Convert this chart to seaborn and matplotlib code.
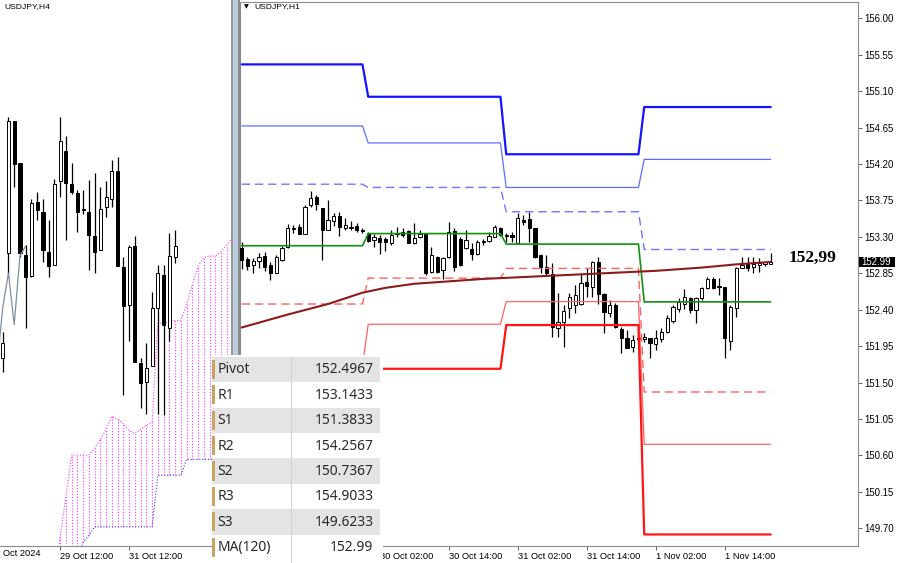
import matplotlib
matplotlib.use("Agg")
import matplotlib.pyplot as plt
import matplotlib.transforms as mtransforms
from matplotlib.patches import Rectangle
import numpy as np
import pandas as pd
import seaborn as sns

# ---------------- H1 candles: 29 Oct 02:00 ... 1 Nov 22:00 ----------------
h1_open = [153.16, 153.03, 152.95, 153.00, 153.06, 152.95, 152.85, 153.01, 153.18, 153.40,
           153.42, 153.34, 153.69, 153.79, 153.66, 153.39, 153.50, 153.56, 153.41, 153.41,
           153.43, 153.38, 153.35, 153.26, 153.29, 153.27, 153.22, 153.35, 153.36, 153.37,
           153.22, 153.30, 153.35, 152.87, 153.05, 152.89, 153.05, 153.37, 153.27, 153.16,
           153.15, 153.09, 153.24, 153.25, 153.30, 153.41, 153.32, 153.32, 153.22, 153.51,
           153.52, 153.41, 153.08, 152.93, 152.84, 152.17, 152.25, 152.42, 152.46, 152.47,
           152.74, 152.68, 152.99, 152.59, 152.36, 152.46, 152.16, 152.05, 151.94, 152.05,
           152.04, 152.05, 151.98, 152.04, 152.13, 152.26, 152.41, 152.47, 152.54, 152.40,
           152.54, 152.67, 152.78, 152.69, 152.68, 152.01, 152.42, 152.92, 152.97, 152.93,
           152.95, 152.97, 152.97]
h1_high = [153.24, 153.05, 153.04, 153.10, 153.11, 152.99, 153.08, 153.19, 153.46, 153.45,
           153.46, 153.69, 153.87, 153.82, 153.66, 153.76, 153.60, 153.61, 153.53, 153.50,
           153.47, 153.41, 153.36, 153.34, 153.32, 153.30, 153.39, 153.42, 153.41, 153.39,
           153.47, 153.39, 153.35, 153.18, 153.06, 153.05, 153.48, 153.41, 153.30, 153.39,
           153.22, 153.26, 153.27, 153.36, 153.45, 153.42, 153.35, 153.36, 153.60, 153.57,
           153.61, 153.41, 153.09, 153.08, 152.98, 152.61, 152.46, 152.61, 152.71, 152.85,
           152.92, 153.00, 153.05, 152.61, 152.52, 152.48, 152.19, 152.15, 152.09, 152.09,
           152.11, 152.05, 152.15, 152.17, 152.34, 152.46, 152.54, 152.66, 152.56, 152.56,
           152.68, 152.80, 152.80, 152.79, 152.68, 152.46, 152.93, 153.05, 153.05, 153.05,
           153.04, 152.99, 153.10]
h1_low = [152.90, 152.89, 152.85, 152.92, 152.88, 152.77, 152.85, 153.00, 153.16, 153.35,
          153.34, 153.34, 153.67, 153.63, 153.01, 153.38, 153.43, 153.31, 153.38, 153.38,
          153.36, 153.35, 153.24, 153.18, 153.09, 153.13, 153.20, 153.30, 153.30, 153.22,
          153.21, 153.29, 152.83, 152.85, 152.85, 152.78, 153.04, 152.88, 152.94, 153.15,
          153.01, 153.08, 153.20, 153.24, 153.30, 153.31, 153.24, 153.24, 153.21, 153.45,
          153.24, 153.04, 152.85, 152.83, 152.06, 152.06, 151.94, 152.30, 152.36, 152.46,
          152.56, 152.56, 152.47, 152.11, 152.31, 152.17, 151.87, 151.93, 151.88, 152.03,
          152.00, 151.80, 151.90, 152.00, 152.11, 152.24, 152.37, 152.41, 152.36, 152.24,
          152.52, 152.66, 152.66, 152.58, 151.80, 151.90, 152.31, 152.92, 152.88, 152.85,
          152.87, 152.94, 152.97]
h1_close = [153.01, 152.94, 153.00, 153.05, 152.93, 152.85, 153.05, 153.16, 153.41, 153.41,
            153.34, 153.67, 153.78, 153.71, 153.39, 153.51, 153.56, 153.42, 153.45, 153.41,
            153.38, 153.37, 153.25, 153.30, 153.24, 153.24, 153.32, 153.34, 153.32, 153.22,
            153.29, 153.34, 152.85, 153.08, 152.87, 153.04, 153.36, 152.93, 152.95, 153.26,
            153.09, 153.24, 153.25, 153.31, 153.42, 153.32, 153.31, 153.30, 153.53, 153.48,
            153.41, 153.05, 152.93, 152.85, 152.19, 152.25, 152.38, 152.56, 152.58, 152.73,
            152.69, 152.99, 152.59, 152.37, 152.46, 152.19, 152.05, 151.93, 152.03, 152.04,
            152.06, 151.99, 152.05, 152.13, 152.30, 152.43, 152.50, 152.56, 152.40, 152.54,
            152.67, 152.78, 152.67, 152.68, 152.05, 152.43, 152.92, 152.95, 152.92, 152.97,
            152.98, 152.97, 152.99]

# ---------------- daily pivot levels (days 29 Oct .. 1 Nov) ----------------
day_first_bar = [0, 22, 46, 70]
day_last_bar = [21, 45, 69, 92]
R3 = [155.43, 155.03, 154.32, 154.9033]
R2 = [154.67, 154.46, 153.91, 154.2567]
R1 = [153.95, 153.91, 153.61, 153.1433]
PP = [153.19, 153.34, 153.21, 152.4967]
S1 = [152.47, 152.79, 152.91, 151.3833]
S2 = [151.71, 152.22, 152.50, 150.7367]
S3 = [150.99, 151.67, 152.21, 149.6233]

# ---------------- MA(120) on H1 ----------------
ma_bar = [0, 8, 15, 21, 25, 30, 36, 42, 48, 54, 60, 66, 72, 80, 86, 92]
ma_value = [152.18, 152.34, 152.47, 152.61, 152.67, 152.72, 152.75, 152.78, 152.80,
            152.82, 152.84, 152.86, 152.88, 152.92, 152.96, 152.99]

# ---------------- H4 candles ----------------
h4_open = [152.20, 152.93, 153.85, 153.56, 152.92, 152.77, 153.29, 153.22, 152.94, 152.85,
           153.43, 153.64, 153.41, 153.35, 153.24, 153.22, 153.05, 152.95, 153.25, 153.31,
           153.50, 152.83, 152.57, 152.98, 152.16, 152.03, 152.14, 152.55, 152.78, 152.41, 152.90]
h4_high = [152.38, 153.88, 153.85, 153.56, 152.99, 153.31, 153.36, 153.31, 153.16, 153.45,
           153.88, 153.75, 153.56, 153.37, 153.37, 153.44, 153.49, 153.39, 153.43, 153.58,
           153.60, 152.90, 152.99, 153.05, 152.20, 152.30, 152.66, 152.85, 152.85, 153.07, 153.09]
h4_low = [152.10, 152.76, 153.39, 152.90, 152.41, 152.76, 153.16, 152.87, 152.76, 152.85,
          153.32, 153.02, 153.34, 153.08, 153.20, 152.81, 152.79, 152.95, 153.18, 153.25,
          152.84, 151.94, 152.32, 152.17, 151.85, 151.81, 152.14, 151.81, 151.80, 152.32, 152.86]
h4_close = [152.30, 153.85, 153.55, 152.93, 152.76, 153.28, 153.23, 152.95, 152.84, 153.41,
            153.71, 153.42, 153.36, 153.22, 153.23, 153.06, 152.94, 153.24, 153.32, 153.50,
            152.84, 152.56, 152.97, 152.17, 152.02, 152.13, 152.55, 152.79, 152.43, 152.91, 152.98]

# Ichimoku cloud (H4)
cloud_bar = list(range(9, 41))
span_a = [150.67, 150.95, 151.23, 151.52, 151.52, 151.52, 151.52, 151.57, 151.63, 151.70,
          151.79, 151.77, 151.74, 151.69, 151.67, 151.70, 151.73, 151.75, 152.44, 152.44,
          152.45, 152.46, 152.46, 152.57, 152.71, 152.84, 152.90, 152.91, 152.91, 152.94,
          152.99, 153.04]
span_b = [150.50, 150.55, 150.65, 150.74, 150.82, 150.91, 150.96, 151.02, 151.02, 151.02,
          151.02, 151.02, 151.02, 151.02, 151.02, 151.02, 151.02, 151.02, 151.38, 151.38,
          151.38, 151.38, 151.38, 151.49, 151.49, 151.49, 151.49, 151.49, 151.49, 151.49,
          151.49, 151.49]
chikou_shift = 26

# ---------------- axis text ----------------
h1_tick_bar = [24, 36, 48, 60, 72, 84]
h1_tick_text = ["30 Oct 02:00", "30 Oct 14:00", "31 Oct 02:00", "31 Oct 14:00",
                "1 Nov 02:00", "1 Nov 14:00"]
h4_tick_bar = [10, 22]
h4_tick_text = ["29 Oct 12:00", "31 Oct 12:00"]
h4_first_label = "Oct 2024"
price_ticks = [156.00, 155.55, 155.10, 154.65, 154.20, 153.75, 153.30, 152.85,
               152.40, 151.95, 151.50, 151.05, 150.60, 150.15, 149.70]

table_names = ["Pivot", "R1", "S1", "R2", "S2", "R3", "S3", "MA(120)"]
table_values = ["152.4967", "153.1433", "151.3833", "154.2567", "150.7367",
                "154.9033", "149.6233", "152.99"]

# ---------------- figure ----------------
sns.set_theme(style="white")
plt.rcParams["font.family"] = ["Liberation Sans", "DejaVu Sans"]

W, H = 900, 563
fig = plt.figure(figsize=(9, 5.63), dpi=100)
fig.patch.set_facecolor("white")


def frect(x0, y0, x1, y1):
    return [x0 / W, 1 - y1 / H, (x1 - x0) / W, (y1 - y0) / H]


def draw_candles(ax, o, h, l, c, width, min_body):
    for i, (oi, hi, li, ci) in enumerate(zip(o, h, l, c)):
        ax.vlines(i, li, hi, colors="black", lw=0.9, zorder=2)
        bottom = min(oi, ci)
        height = max(abs(ci - oi), min_body)
        face = "white" if ci >= oi else "black"
        ax.add_patch(Rectangle((i - width / 2, bottom), width, height,
                               facecolor=face, edgecolor="black", lw=0.7, zorder=3))


# ---------- left H4 panel ----------
ax1 = fig.add_axes(frect(0, 0, 232, 545.5))
ax1.set_facecolor("white")
h4_bars = np.arange(len(h4_open))

for k, a, b in zip(cloud_bar, span_a, span_b):
    if a > b:
        ax1.vlines(k, b, a, colors="#ff33ff", lw=0.8, linestyles=(0, (1, 1.6)), zorder=1)
ax1.plot(cloud_bar, span_a, color="#ff33ff", lw=0.8, ls=(0, (1, 1.6)), zorder=1)
ax1.plot(cloud_bar, span_b, color="#3b3bff", lw=0.8, ls=(0, (1, 1.6)), zorder=1)

draw_candles(ax1, h4_open, h4_high, h4_low, h4_close, 0.55, 0.008)

ch_x = h4_bars[chikou_shift - 1:] - chikou_shift
ch_y = h4_close[chikou_shift - 1:]
sns.lineplot(x=ch_x, y=ch_y, ax=ax1, color="#7d8ea3", lw=0.9, zorder=4)

ax1.set_xlim(-0.47, 39.9)
ax1.set_ylim(150.889, 154.697)
for s in ["top", "left", "right"]:
    ax1.spines[s].set_visible(False)
ax1.spines["bottom"].set_color("#8a8a8a")
ax1.spines["bottom"].set_linewidth(0.8)
ax1.set_yticks([])
ax1.set_xticks(h4_tick_bar)
ax1.set_xticklabels(h4_tick_text)
ax1.tick_params(axis="x", bottom=True, direction="out", length=3, width=0.7,
                color="#606060", pad=1.5, labelsize=6.7, labelcolor="black")
for t in ax1.get_xticklabels():
    t.set_ha("left")
ax1.set_xlabel("")
ax1.set_ylabel("")
ax1.text(3.3 / 232, -0.0145, h4_first_label, transform=ax1.transAxes, ha="left",
         va="center", fontsize=6.7, color="black", clip_on=False)
ax1.text(4 / 232, 1 - 7 / 545.5, "USDJPY,H4", transform=ax1.transAxes, ha="left",
         va="center", fontsize=6.1, color="black")

# ---------- right H1 panel ----------
ax2 = fig.add_axes(frect(240, 1.5, 858, 545.5))
ax2.set_facecolor("white")

draw_candles(ax2, h1_open, h1_high, h1_low, h1_close, 0.56, 0.013)


def level_xy(vals):
    xs, ys = [], []
    for s, e, v in zip(day_first_bar, day_last_bar, vals):
        xs += [s, e]
        ys += [v, v]
    return xs, ys


solid_levels = [(R3, "#1414ff", 1.6), (R2, "#5f6dff", 0.9), (PP, "#129212", 1.2),
                (S2, "#ff6464", 0.9), (S3, "#ff1414", 1.6)]
for vals, col, lw in solid_levels:
    xs, ys = level_xy(vals)
    sns.lineplot(x=xs, y=ys, ax=ax2, color=col, lw=lw, sort=False, estimator=None, zorder=5)
for vals, col in [(R1, "#6c78ff"), (S1, "#ff6060")]:
    xs, ys = level_xy(vals)
    ax2.plot(xs, ys, color=col, lw=1.0, ls=(0, (6, 3.5)), zorder=5)

sns.lineplot(x=ma_bar, y=ma_value, ax=ax2, color="#8e1b1b", lw=1.5, sort=False,
             estimator=None, zorder=6)

ax2.set_xlim(-0.3, 107.18)
ax2.set_ylim(149.487, 156.207)
for s in ax2.spines.values():
    s.set_color("#8a8a8a")
    s.set_linewidth(0.8)
ax2.set_xlabel("")
ax2.set_ylabel("")
ax2.yaxis.tick_right()
ax2.set_yticks(price_ticks)
ax2.set_yticklabels([f"{v:.2f}" for v in price_ticks])
ax2.tick_params(axis="y", right=True, left=False, direction="out", length=3, width=0.7,
                color="#606060", pad=1.5, labelsize=6.9, labelcolor="black")
ax2.set_xticks(h1_tick_bar)
ax2.set_xticklabels(h1_tick_text)
ax2.tick_params(axis="x", bottom=True, direction="out", length=3, width=0.7,
                color="#606060", pad=1.5, labelsize=6.7, labelcolor="black")
for t in ax2.get_xticklabels():
    t.set_ha("left")

last_close = h1_close[-1]
bl = mtransforms.blended_transform_factory(ax2.transAxes, ax2.transData)
ax2.add_patch(Rectangle((1.0015, last_close - 0.062), 0.059, 0.124, transform=bl,
                        facecolor="black", edgecolor="none", clip_on=False, zorder=10))
ax2.text(1.006, last_close, f"{last_close:.2f}", transform=bl, ha="left", va="center",
         fontsize=6.9, color="white", clip_on=False, zorder=11)
ax2.text(len(h1_close) - 1 + 7.3, last_close + 0.045, "152,99", ha="center", va="center",
         fontsize=12.5, fontweight="bold", family=["Liberation Serif", "DejaVu Serif"],
         color="black", zorder=11)
ax2.text(3.5 / 618, 1 - 5.5 / 544, "\u25bc", transform=ax2.transAxes, ha="left",
         va="center", fontsize=4.5, color="black", family=["DejaVu Sans"])
ax2.text(14 / 618, 1 - 5.5 / 544, "USDJPY,H1", transform=ax2.transAxes, ha="left",
         va="center", fontsize=6.1, color="black")

# ---------- separator between the windows ----------
fig.patches.append(Rectangle((231 / W, 0), 2 / W, 1, transform=fig.transFigure,
                             facecolor="#9a9a9a", edgecolor="none", zorder=20))
fig.patches.append(Rectangle((233 / W, 0), 5 / W, 1, transform=fig.transFigure,
                             facecolor="#bccde2", edgecolor="none", zorder=20))
fig.patches.append(Rectangle((238 / W, 0), 2 / W, 1, transform=fig.transFigure,
                             facecolor="#8d8d8d", edgecolor="none", zorder=20))

# ---------- data window table ----------
tab = fig.add_axes(frect(212, 355, 383, 563), zorder=30)
tab.set_xlim(212, 383)
tab.set_ylim(563, 355)
tab.set_facecolor("white")
tab.set_xticks([])
tab.set_yticks([])
for s in tab.spines.values():
    s.set_visible(False)
row_top0, row_h = 356.7, 25.4
for i, (name, val) in enumerate(zip(table_names, table_values)):
    top = row_top0 + i * row_h
    bg = "#e4e4e4" if i % 2 == 0 else "#ffffff"
    tab.add_patch(Rectangle((212, top), 168, row_h, facecolor=bg, edgecolor="none"))
    tab.add_patch(Rectangle((212.3, top + 3), 2.4, row_h - 6, facecolor="#c9a55c",
                            edgecolor="none"))
    tab.text(217.3, top + row_h / 2 + 0.5, name, ha="left", va="center", fontsize=10,
             color="#2a2a2a", family=["Noto Sans", "DejaVu Sans"])
    tab.text(373.3, top + row_h / 2 + 0.5, val, ha="right", va="center", fontsize=10,
             color="#2a2a2a", family=["Noto Sans", "DejaVu Sans"])
tab.vlines(291, 356.7, 563, colors="#d2d2d2", lw=0.8)

fig.savefig("out.png", dpi=100, facecolor="white")
